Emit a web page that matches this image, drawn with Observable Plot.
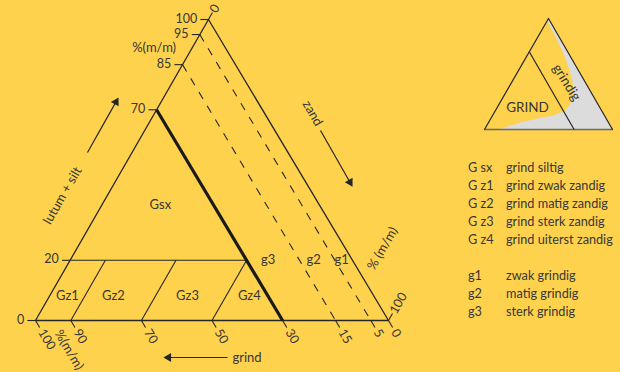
<!DOCTYPE html>
<html><head><meta charset="utf-8">
<script src="https://cdn.jsdelivr.net/npm/d3@7"></script>
<script src="https://cdn.jsdelivr.net/npm/@observablehq/plot@0.6"></script>
<style>
body{margin:0;background:#FED24D;}
#wrap{position:relative;width:620px;height:372px;background:#FED24D;font-family:Lato,sans-serif;color:#363636;overflow:hidden;}
#wrap svg{position:absolute;left:0;top:0;}
#legend{position:absolute;left:468px;top:158px;font-size:12.7px;line-height:18px;white-space:nowrap;}
#legend .c{display:inline-block;width:38px;}
</style></head><body><div id="wrap"><div id="legend"></div></div>
<script>
// ---- data (ternary percentages: lutum+silt, grind; zand = 100 - both) ----
const leftTicks = [0, 20, 70, 85, 95, 100];          // lutum + silt %
const bottomTicks = [100, 90, 70, 50, 30, 15, 5, 0];  // grind %
const rightTicks = [0, 100];                          // zand %
const siltLimit = 20;                                 // lutum+silt boundary
const grindLimit = 30;                                // thick boundary (grind %)
const dashedGrind = [15, 5];                          // g2/g1 boundaries (grind %)
const zandLimits = [10, 30, 50];                      // Gz boundaries (zand %)
const classNames = ["Gsx", "Gz1", "Gz2", "Gz3", "Gz4", "g3", "g2", "g1"];
const classLut   = [38.5, 8.3, 8.3, 8.3, 8.3, 20, 20, 20];
const classGrind = [45, 86.7, 73.7, 52.7, 35.2, 23.9, 11, 3.1];
const legendCodes = ["G sx", "G z1", "G z2", "G z3", "G z4"];
const legendNames = ["grind siltig", "grind zwak zandig", "grind matig zandig", "grind sterk zandig", "grind uiterst zandig"];
const gradeCodes = ["g1", "g2", "g3"];
const gradeNames = ["zwak grindig", "matig grindig", "sterk grindig"];
// inset: boundary of the "grindig" zone, [lutum+silt, grind]
const grindigCurve = [[98,1.5],[91.9,2.4],[80.2,2.9],[68.5,4.0],[55.9,6.4],[44.1,9.2],[32.4,14.3],[23.4,21.1],[17.1,28.2],[12.6,39.8],[9.9,53.6],[6.3,68.7],[2.7,80.7],[0,89.1]];

// ---- geometry ----
const ink = "#262626", txt = "#363636";
const mkT = skew => (lut, grind) => { const zand = 100 - lut - grind; return {x: zand + skew * lut, y: lut}; };
const T = mkT(0.49);
const seg = (t, a, b) => { const p = t(...a), q = t(...b); return {x1: p.x, y1: p.y, x2: q.x, y2: q.y}; };
const TK = 2.3, LB = 3.2;

const outline = [[100,0],[0,0],[0,100],[100,0]].map(d => T(...d));
const thick = [seg(T, [100 - grindLimit, grindLimit], [0, grindLimit])];
const dashed = dashedGrind.map(g => seg(T, [100 - g, g], [0, g]));
const thin = [seg(T, [siltLimit, 100 - siltLimit], [siltLimit, grindLimit])]
  .concat(zandLimits.map(z => seg(T, [0, 100 - z], [siltLimit, 100 - siltLimit - z])));
const ticks = [
  ...leftTicks.map(v => seg(T, [v, 100 - v], [v, 100 - v + TK])),
  ...bottomTicks.map(g => seg(T, [0, g], [-TK, g])),
  ...rightTicks.map(z => seg(T, [100 - z, 0], [100 - z + TK, -TK]))
];
const leftLabels = leftTicks.map(v => ({...T(v, 100 - v + LB), t: String(v)}));
const bottomLabels = bottomTicks.map(g => ({...T(-LB, g), t: String(g)}));
const rightLabels = rightTicks.map(z => ({...T(100 - z + 2.6, -2.6), t: String(z)}));
const classLabels = classNames.map((n, i) => ({...T(classLut[i], classGrind[i]), t: n}));

// annotation arrows (plot units)
const arrows = [
  {x1: 14.73, y1: 55.81, x2: 22.8, y2: 72.62, r: 29.4},
  {x1: 80.74, y1: 63.12, x2: 89.09, y2: 45.95, r: 150.3},
  {x1: 54.39, y1: -12.29, x2: 37.68, y2: -12.29, r: -90}
];

const tickOpts = {fill: txt, fontSize: 12.5, lineAnchor: "middle"};
const txtOpts = {fill: txt, fontSize: 13, lineAnchor: "middle"};
const main = Plot.plot({
  width: 620, height: 372, margin: 0,
  x: {domain: [0, 100], range: [35, 388], axis: null},
  y: {domain: [0, 100], range: [320, 19], axis: null},
  style: {background: "transparent", fontFamily: "Lato, sans-serif", fontSize: "12px", color: txt},
  marks: [
    Plot.line(outline, {x: "x", y: "y", stroke: ink, strokeWidth: 1.3, strokeLinejoin: "miter"}),
    Plot.link(thin, {x1: "x1", y1: "y1", x2: "x2", y2: "y2", stroke: ink, strokeWidth: 1.1}),
    Plot.link(dashed, {x1: "x1", y1: "y1", x2: "x2", y2: "y2", stroke: ink, strokeWidth: 1.1, strokeDasharray: "8,8"}),
    Plot.link(thick, {x1: "x1", y1: "y1", x2: "x2", y2: "y2", stroke: "#1a1a1a", strokeWidth: 3.2}),
    Plot.link(ticks, {x1: "x1", y1: "y1", x2: "x2", y2: "y2", stroke: ink, strokeWidth: 1.1}),
    Plot.text(leftLabels, {x: "x", y: "y", text: "t", textAnchor: "end", dy: -1, ...tickOpts}),
    Plot.text(bottomLabels, {x: "x", y: "y", text: "t", textAnchor: "start", rotate: 59, ...tickOpts}),
    Plot.text(rightLabels, {x: "x", y: "y", text: "t", textAnchor: "start", rotate: -60, ...tickOpts}),
    Plot.text(classLabels, {x: "x", y: "y", text: "t", ...txtOpts}),
    Plot.text(["%(m/m)"], {x: 33.6, y: 90.7, ...txtOpts}),
    Plot.text(["%(m/m)"], {x: 9.5, y: -9.8, rotate: 59, ...txtOpts}),
    Plot.text(["% (m/m)"], {x: 98.3, y: 23.9, rotate: -60, ...txtOpts}),
    Plot.text(["lutum + silt"], {x: 7.65, y: 41.5, rotate: -60, ...txtOpts}),
    Plot.text(["zand"], {x: 78.5, y: 68.8, rotate: 60, ...txtOpts}),
    Plot.text(["grind"], {x: 55.8, y: -12.3, textAnchor: "start", ...txtOpts}),
    Plot.link(arrows, {x1: "x1", y1: "y1", x2: "x2", y2: "y2", stroke: ink, strokeWidth: 1.2}),
    Plot.dot(arrows, {x: "x2", y: "y2", rotate: "r", symbol: "triangle", r: 3.3, fill: ink, stroke: "none"})
  ]
});

// ---- inset ----
const Ti = mkT(0.5);
const grey = [...grindigCurve.map(d => Ti(...d)), Ti(0, 0), Ti(100, 0)];
const inset = Plot.plot({
  width: 620, height: 372, margin: 0,
  x: {domain: [0, 100], range: [484, 612], axis: null},
  y: {domain: [0, 100], range: [129, 18], axis: null},
  style: {background: "transparent", fontFamily: "Lato, sans-serif", color: txt},
  marks: [
    Plot.line(grey, {x: "x", y: "y", fill: "#dcdcdc", stroke: "none"}),
    Plot.link([seg(Ti, [0, 100], [0, 0])], {x1: "x1", y1: "y1", x2: "x2", y2: "y2", stroke: "#6a6a6a", strokeWidth: 1.4}),
    Plot.line([[0,0],[100,0],[0,100]].map(d => Ti(...d)), {x: "x", y: "y", stroke: ink, strokeWidth: 1.2}),
    Plot.link([seg(Ti, [100 - grindLimit, grindLimit], [0, grindLimit])], {x1: "x1", y1: "y1", x2: "x2", y2: "y2", stroke: ink, strokeWidth: 1.2}),
    Plot.text(["GRIND"], {...Ti(19.8, 56.5), fill: txt, fontSize: 13.5, lineAnchor: "middle"}),
    Plot.text(["grindig"], {...Ti(42.3, 14.7), rotate: 58, fill: txt, fontSize: 13.5, lineAnchor: "middle"})
  ]
});

const wrap = document.getElementById("wrap");
wrap.appendChild(main);
wrap.appendChild(inset);

// ---- legend ----
const lg = document.getElementById("legend");
const rows = legendCodes.map((c, i) => [c, legendNames[i]]).concat([["", ""]], gradeCodes.map((c, i) => [c, gradeNames[i]]));
lg.innerHTML = rows.map(([c, n]) => `<div><span class="c">${c}</span>${n || "&nbsp;"}</div>`).join("");
</script>
</body></html>
